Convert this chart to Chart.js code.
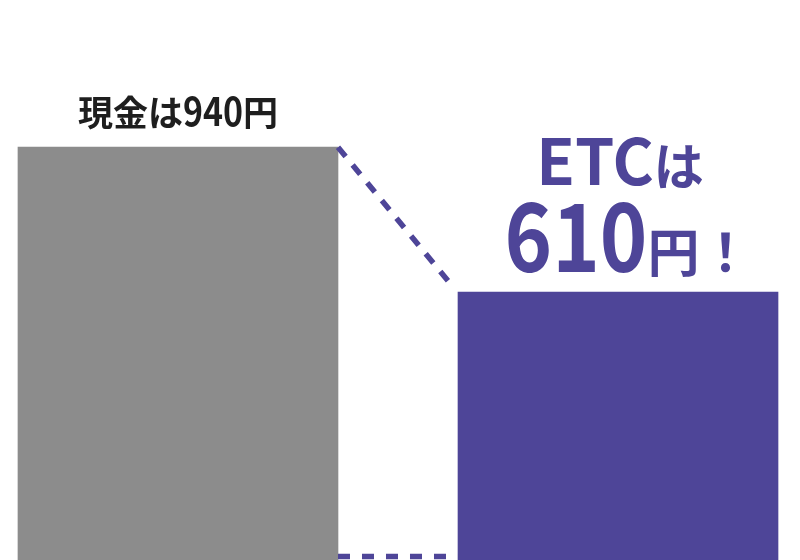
<!DOCTYPE html>
<html>
<head>
<meta charset="utf-8">
<script src="https://cdn.jsdelivr.net/npm/chart.js@4"></script>
<style>
  html, body { margin: 0; padding: 0; background: #fff; }
  #wrap { width: 800px; height: 560px; }
</style>
</head>
<body>
<div id="wrap"><canvas id="myChart"></canvas></div>
<script>
var categories = ["現金", "ETC"]
var values = [940, 610]
var barColors = ["#8c8c8c", "#4e4598"]
var lineColor = "#4e4598"

var FONT = '"Noto Sans CJK JP", "Noto Sans", sans-serif'

// draw a row of text pieces, each with its own size / horizontal squeeze, centred on cx
function drawRuns(ctx, runs, cx, baseline, color) {
  var total = 0
  runs.forEach(function(r) {
    ctx.font = "bold " + r.size + "px " + FONT
    r.w = ctx.measureText(r.text).width * (r.sx || 1)
    total += r.w
  })
  var x = cx - total / 2
  ctx.fillStyle = color
  ctx.textBaseline = "alphabetic"
  ctx.textAlign = "left"
  runs.forEach(function(r) {
    ctx.save()
    ctx.font = "bold " + r.size + "px " + FONT
    ctx.translate(x, baseline)
    ctx.scale(r.sx || 1, 1)
    ctx.fillText(r.text, 0, 0)
    ctx.restore()
    x += r.w
  })
}

var decorations = {
  id: "decorations",
  afterDatasetsDraw: function(chart) {
    var ctx = chart.ctx
    var bars = chart.getDatasetMeta(0).data
    var a = bars[0], b = bars[1]
    var aRight = a.x + a.width / 2
    var bLeft = b.x - b.width / 2
    var bottom = chart.chartArea.bottom

    ctx.save()
    ctx.strokeStyle = lineColor
    ctx.lineWidth = 5.5
    ctx.setLineDash([12, 11])
    ctx.beginPath()
    ctx.moveTo(aRight, a.y)
    ctx.lineTo(bLeft - 4, b.y - 4)
    ctx.stroke()
    ctx.setLineDash([12, 12])
    ctx.beginPath()
    ctx.moveTo(aRight, bottom - 3.5)
    ctx.lineTo(bLeft, bottom - 3.5)
    ctx.stroke()
    ctx.restore()

    // labels
    drawRuns(ctx, [
      { text: categories[0] + "は", size: 35 },
      { text: String(values[0]), size: 40, sx: 0.85 },
      { text: "円", size: 35 }
    ], a.x, a.y - 21, "#1e1e1e")

    drawRuns(ctx, [
      { text: categories[1], size: 63 },
      { text: "は", size: 50 }
    ], b.x + 2, b.y - 107, lineColor)

    drawRuns(ctx, [
      { text: String(values[1]), size: 95, sx: 0.85 },
      { text: "円！", size: 52 }
    ], b.x + 10, b.y - 20, lineColor)
  }
}

document.addEventListener('DOMContentLoaded', function() {
  var ctx = document.getElementById("myChart").getContext('2d')
  var myChart = new Chart(ctx, {
    type: 'bar',
    data: {
      datasets: [{
        data: values.map(function(v, i) { return { x: i, y: v } }),
        backgroundColor: barColors,
        borderWidth: 0,
        barThickness: 320
      }]
    },
    options: {
      responsive: true,
      maintainAspectRatio: false,
      animation: false,
      layout: { padding: 0 },
      plugins: { legend: { display: false }, tooltip: { enabled: false } },
      scales: {
        x: { type: 'linear', display: false, offset: false, min: -0.4045, max: 1.4136 },
        y: { display: false, min: 0, max: 1275 }
      }
    },
    plugins: [decorations]
  })
})
</script>
</body>
</html>
